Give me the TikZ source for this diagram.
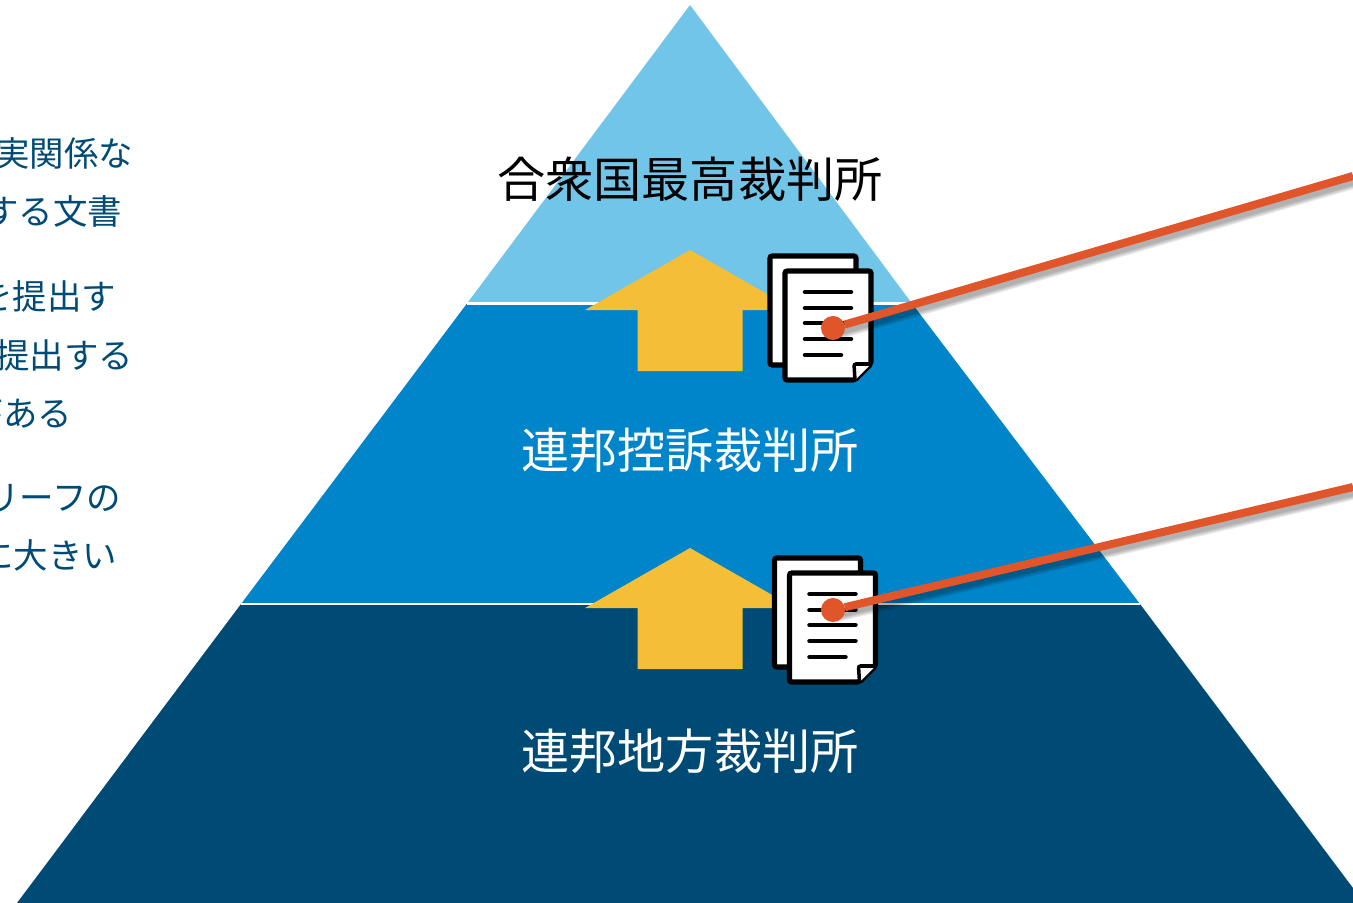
\documentclass[tikz,border=0pt]{standalone}
\usepackage{fontspec}
\setmainfont{Noto Sans CJK JP}
\definecolor{toplayer}{HTML}{71C5E8}
\definecolor{midlayer}{HTML}{0085CA}
\definecolor{lowlayer}{HTML}{004B75}
\definecolor{uparrow}{HTML}{F5BE37}
\definecolor{pointer}{HTML}{E0562A}
\tikzset{courtlabel/.style={font=\fontsize{13.7pt}{16pt}\selectfont, inner sep=0pt},
notetext/.style={anchor=east, text=lowlayer, font=\fontsize{9.8pt}{11pt}\selectfont, inner sep=0pt},
dot/.style={circle, fill=pointer, minimum size=0.24cm, inner sep=0pt, outer sep=0pt},
pointerline/.style={draw=pointer, line width=0.08cm},
%one sheet of paper, outline only
sheet/.style={draw=black, fill=white, line width=0.05cm, rounded corners=0.02cm},
textrow/.style={draw=black, line width=0.045cm, line cap=round},
docicon/.pic={
    \draw[sheet] (0,0) rectangle (86,109);
    \draw[sheet] (15,15) -- (101,15) -- (101,108) -- (85,124) -- (15,124) -- cycle;
    \draw[sheet, line width=0.035cm] (85,124) -- (84,108) -- (101,108);
    \foreach \y in {36,52,67,83}
        \draw[textrow] (35,\y) -- (81,\y);
    \draw[textrow] (35,99) -- (71,99);
}}

\begin{document}
\begin{tikzpicture}[x=0.01cm,y=-0.01cm]
\useasboundingbox (0,0) rectangle (1353,903);

\coordinate (apex) at (690,5);
\coordinate (topl) at (467,303.5);
\coordinate (topr) at (912,303.5);
\coordinate (midl) at (241,604);
\coordinate (midr) at (1140,604);
\coordinate (lowl) at (17,903);
\coordinate (lowr) at (1353,888);
\coordinate (lowe) at (1353,903);

\fill[lowlayer] (midl) -- (midr) -- (lowr) -- (lowe) -- (lowl) -- cycle;
\fill[midlayer] (topl) -- (topr) -- (midr) -- (midl) -- cycle;
\fill[toplayer] (apex) -- (topr) -- (topl) -- cycle;
\draw[white, line width=0.025cm] (topl) -- (topr);
\draw[white, line width=0.025cm] (midl) -- (midr);

\node[courtlabel, text=black] (supreme) at (690,179) {合衆国最高裁判所};
\node[courtlabel, text=white] (appeals) at (690,450) {連邦控訴裁判所};
\node[courtlabel, text=white] (district) at (690,751) {連邦地方裁判所};

\foreach \y in {0,298}
    \fill[uparrow] (690,250+\y) -- (795,310+\y) -- (742.5,310+\y) -- (742.5,371+\y)
        -- (637.5,371+\y) -- (637.5,310+\y) -- (585,310+\y) -- cycle;

\pic at (770,256) {docicon};
\pic at (774.5,558) {docicon};

\node[notetext] (n1) at (134,153) {実関係な};
\node[notetext] (n2) at (123,211) {する文書};
\node[notetext] (n3) at (117,296) {を提出す};
\node[notetext] (n4) at (134,355) {提出する};
\node[notetext] (n5) at (73,413) {がある};
\node[notetext] (n6) at (122,498) {リーフの};
\node[notetext] (n7) at (118,555) {に大きい};

\coordinate (starta) at (833,328);
\coordinate (startb) at (833,610);
\coordinate (enda) at (1353,176);
\coordinate (endb) at (1353,487);

%soft shadow first, then the dot and the line on top
\foreach \a/\b in {starta/enda,startb/endb}
    \foreach \w in {0.15,0.13,0.11,0.09,0.07}
        \draw[black, opacity=0.07, line width=\w cm, transform canvas={xshift=0.02cm,yshift=-0.05cm}] (\a) -- (\b);

\node[dot] (doca) at (starta) {};
\node[dot] (docb) at (startb) {};
\draw[pointerline] (doca) -- (enda);
\draw[pointerline] (docb) -- (endb);

\end{tikzpicture}
\end{document}
